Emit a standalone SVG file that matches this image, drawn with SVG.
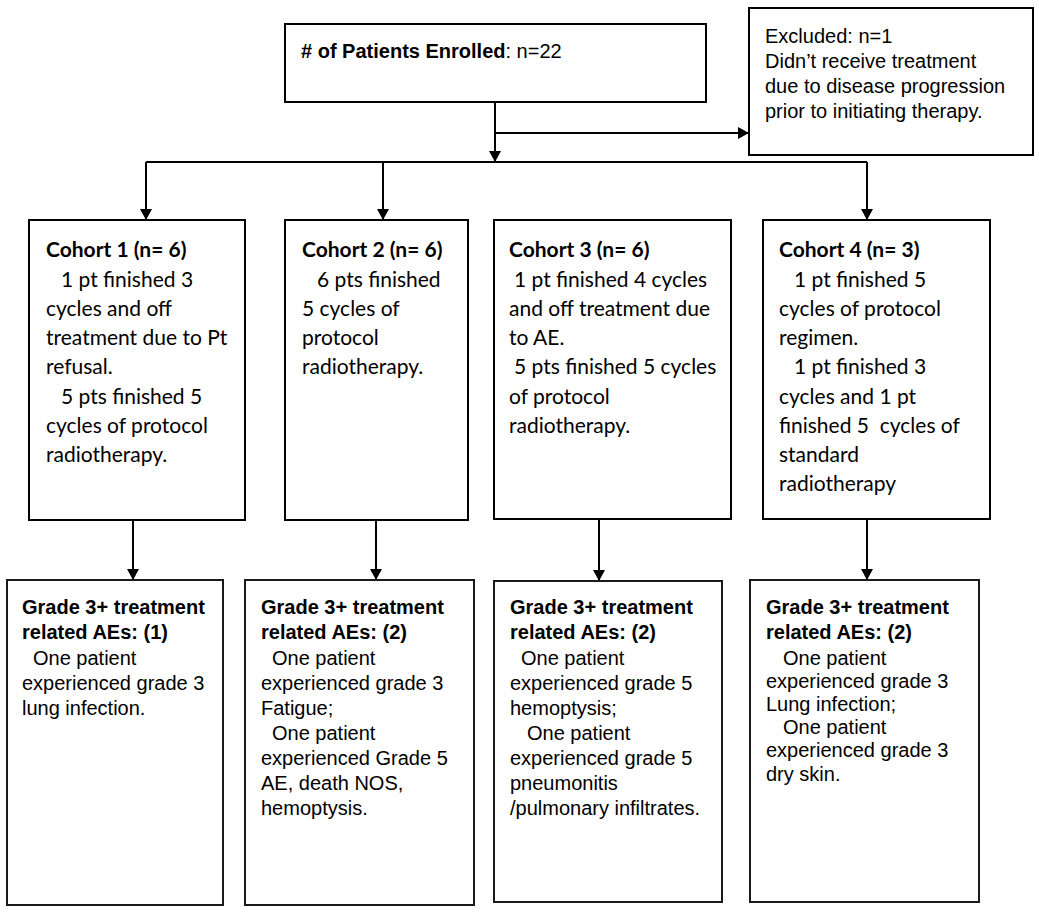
<svg xmlns="http://www.w3.org/2000/svg" width="1039" height="912" viewBox="0 0 1039 912">
<style>
  .box { fill: #ffffff; stroke: #000000; stroke-width: 2; }
  .box2 { fill: #ffffff; stroke: #1a1a1a; stroke-width: 2; }
  .conn { fill: none; stroke: #000000; stroke-width: 2; }
  .ar { font-family: "Liberation Sans", Arial, sans-serif; font-size: 20px; fill: #000000; }
  .cal { font-family: Lato, "Liberation Sans", sans-serif; font-size: 21px; fill: #000000; }
  .b { font-weight: bold; }
</style>
<defs>
  <marker id="arrow" viewBox="0 0 11 12" refX="11" refY="6" markerWidth="11" markerHeight="12" markerUnits="userSpaceOnUse" orient="auto">
    <path d="M0,0 L11,6 L0,12 z" fill="#000000"/>
  </marker>
</defs>
<rect width="1039" height="912" fill="#ffffff"/>

<g id="connectors">
  <path class="conn" d="M495,102 V162" marker-end="url(#arrow)"/>
  <path class="conn" d="M495,133 H749" marker-end="url(#arrow)"/>
  <path class="conn" d="M146,162 H867"/>
  <path class="conn" d="M146,162 V220" marker-end="url(#arrow)"/>
  <path class="conn" d="M383,162 V220" marker-end="url(#arrow)"/>
  <path class="conn" d="M867,162 V220" marker-end="url(#arrow)"/>
  <path class="conn" d="M133,520 V580" marker-end="url(#arrow)"/>
  <path class="conn" d="M376,520 V580" marker-end="url(#arrow)"/>
  <path class="conn" d="M599,517 V581" marker-end="url(#arrow)"/>
  <path class="conn" d="M867,519 V580" marker-end="url(#arrow)"/>
</g>

<g id="enrolled">
  <rect class="box" x="285" y="24" width="421" height="78"/>
  <text class="ar" x="301" y="58"><tspan class="b"># of Patients Enrolled</tspan>: n=22</text>
</g>

<g id="excluded">
  <rect class="box" x="749" y="8" width="284" height="147"/>
  <text class="ar" x="765" y="43">Excluded: n=1</text>
  <text class="ar" x="765" y="68">Didn’t receive treatment</text>
  <text class="ar" x="765" y="93">due to disease progression</text>
  <text class="ar" x="765" y="118">prior to initiating therapy.</text>
</g>

<g id="cohort1">
  <rect class="box" x="29" y="220" width="216" height="300"/>
  <text class="cal b" x="46" y="257">Cohort 1 (n= 6)</text>
  <text class="cal" x="61" y="287">1 pt finished 3</text>
  <text class="cal" x="46" y="316">cycles and off</text>
  <text class="cal" x="46" y="345">treatment due to Pt</text>
  <text class="cal" x="46" y="374">refusal.</text>
  <text class="cal" x="61" y="404">5 pts finished 5</text>
  <text class="cal" x="46" y="433">cycles of protocol</text>
  <text class="cal" x="46" y="462">radiotherapy.</text>
</g>

<g id="cohort2">
  <rect class="box" x="285" y="220" width="183" height="300"/>
  <text class="cal b" x="302" y="257">Cohort 2 (n= 6)</text>
  <text class="cal" x="317" y="287">6 pts finished</text>
  <text class="cal" x="302" y="316">5 cycles of</text>
  <text class="cal" x="302" y="345">protocol</text>
  <text class="cal" x="302" y="374">radiotherapy.</text>
</g>

<g id="cohort3">
  <rect class="box" x="494" y="220" width="237" height="299"/>
  <text class="cal b" x="509" y="257">Cohort 3 (n= 6)</text>
  <text class="cal" x="514" y="287">1 pt finished 4 cycles</text>
  <text class="cal" x="509" y="316">and off treatment due</text>
  <text class="cal" x="509" y="345">to AE.</text>
  <text class="cal" x="514" y="374">5 pts finished 5 cycles</text>
  <text class="cal" x="509" y="404">of protocol</text>
  <text class="cal" x="509" y="433">radiotherapy.</text>
</g>

<g id="cohort4">
  <rect class="box" x="763" y="220" width="227" height="299"/>
  <text class="cal b" x="779" y="257">Cohort 4 (n= 3)</text>
  <text class="cal" x="794" y="287">1 pt finished 5</text>
  <text class="cal" x="779" y="316">cycles of protocol</text>
  <text class="cal" x="779" y="345">regimen.</text>
  <text class="cal" x="794" y="374">1 pt finished 3</text>
  <text class="cal" x="779" y="404">cycles and 1 pt</text>
  <text class="cal" x="779" y="433" xml:space="preserve">finished 5  cycles of</text>
  <text class="cal" x="779" y="462">standard</text>
  <text class="cal" x="779" y="491">radiotherapy</text>
</g>

<g id="ae1">
  <rect class="box2" x="7" y="580" width="216" height="325"/>
  <text class="ar b" x="22" y="614">Grade 3+ treatment</text>
  <text class="ar b" x="22" y="639">related AEs: (1)</text>
  <text class="ar" x="33" y="665">One patient</text>
  <text class="ar" x="22" y="690">experienced grade 3</text>
  <text class="ar" x="22" y="715">lung infection.</text>
</g>

<g id="ae2">
  <rect class="box2" x="245" y="580" width="229" height="325"/>
  <text class="ar b" x="261" y="614">Grade 3+ treatment</text>
  <text class="ar b" x="261" y="639">related AEs: (2)</text>
  <text class="ar" x="272" y="665">One patient</text>
  <text class="ar" x="261" y="690">experienced grade 3</text>
  <text class="ar" x="261" y="715">Fatigue;</text>
  <text class="ar" x="272" y="740">One patient</text>
  <text class="ar" x="261" y="765">experienced Grade 5</text>
  <text class="ar" x="261" y="790">AE, death NOS,</text>
  <text class="ar" x="261" y="815">hemoptysis.</text>
</g>

<g id="ae3">
  <rect class="box2" x="494" y="581" width="228" height="321"/>
  <text class="ar b" x="510" y="614">Grade 3+ treatment</text>
  <text class="ar b" x="510" y="639">related AEs: (2)</text>
  <text class="ar" x="521" y="665">One patient</text>
  <text class="ar" x="510" y="690">experienced grade 5</text>
  <text class="ar" x="510" y="715">hemoptysis;</text>
  <text class="ar" x="527" y="740">One patient</text>
  <text class="ar" x="510" y="765">experienced grade 5</text>
  <text class="ar" x="510" y="790">pneumonitis</text>
  <text class="ar" x="510" y="815">/pulmonary infiltrates.</text>
</g>

<g id="ae4">
  <rect class="box2" x="750" y="580" width="229" height="322"/>
  <text class="ar b" x="766" y="614">Grade 3+ treatment</text>
  <text class="ar b" x="766" y="639">related AEs: (2)</text>
  <text class="ar" x="783" y="665">One patient</text>
  <text class="ar" x="766" y="688">experienced grade 3</text>
  <text class="ar" x="766" y="711">Lung infection;</text>
  <text class="ar" x="783" y="734">One patient</text>
  <text class="ar" x="766" y="757">experienced grade 3</text>
  <text class="ar" x="766" y="781">dry skin.</text>
</g>
</svg>
